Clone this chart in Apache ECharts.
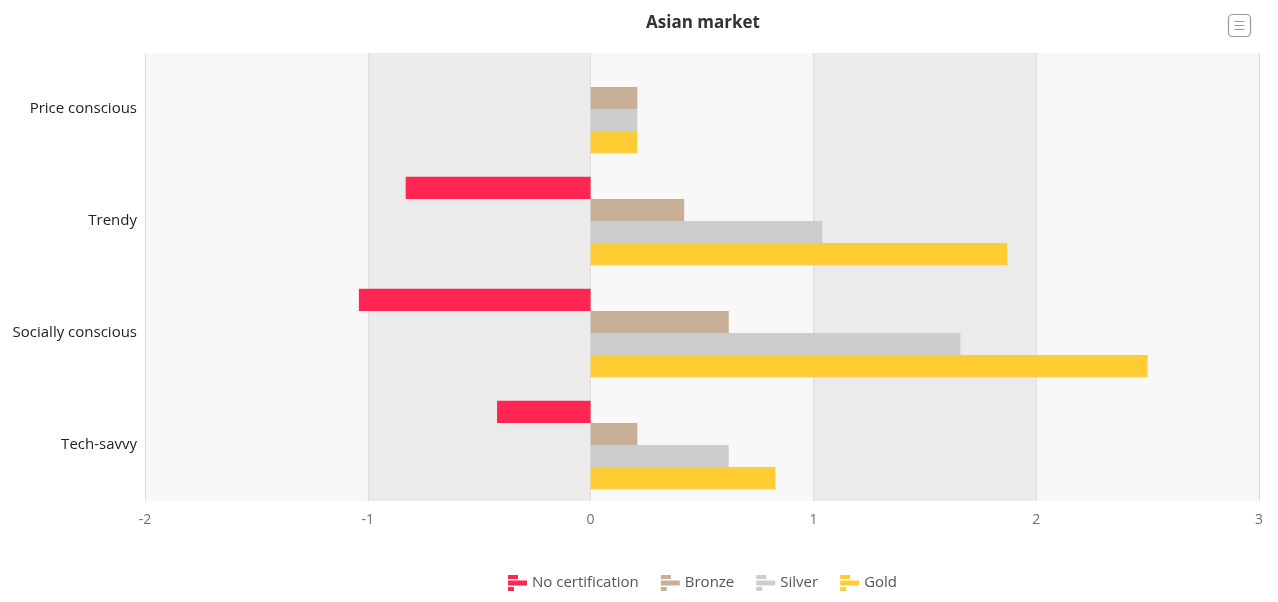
<!DOCTYPE html>
<html><head><meta charset="utf-8">
<script src="https://cdn.jsdelivr.net/npm/echarts@6/dist/echarts.min.js"></script>
<style>html,body{margin:0;padding:0;background:#fff}#c{width:1278px;height:602px}</style>
</head><body><div id="c"></div>
<script>
const categories = ['Price conscious', 'Trendy', 'Socially conscious', 'Tech-savvy'];
const seriesNames = ['No certification', 'Bronze', 'Silver', 'Gold'];
const noCert = [0, -0.83, -1.04, -0.42];
const bronze = [0.21, 0.42, 0.62, 0.21];
const silver = [0.21, 1.04, 1.66, 0.62];
const gold = [0.21, 1.87, 2.5, 0.83];
const colors = ['#ff2752', '#c8b097', '#cdcdcd', '#ffcd33'];
const seriesData = [noCert, bronze, silver, gold];

const font = '"Open Sans", "Noto Sans", sans-serif';
const chart = echarts.init(document.getElementById('c'));
chart.setOption({
  textStyle: { fontFamily: font },
  title: { text: 'Asian market', left: 698, textAlign: 'center', top: 10,
    textStyle: { fontSize: 17, fontWeight: 'bold', color: '#333', fontFamily: font } },
  toolbox: { right: 10, top: -3, itemSize: 22,
    feature: { myMenu: { show: true, title: 'Menu',
      icon: 'path://M4,0H18A4,4 0 0 1 22,4V18A4,4 0 0 1 18,22H4A4,4 0 0 1 0,18V4A4,4 0 0 1 4,0Z M6,7H16 M6,11H16 M6,15H16',
      onclick: function(){} } },
    iconStyle: { borderColor: '#999', color: 'none', borderWidth: 1.2 } },
  legend: { left: 503, bottom: 6, itemWidth: 19, itemHeight: 16, itemGap: 22,
    icon: 'path://M0,0H10V4H0Z M0,5.5H19V10.5H0Z M0,12H6V16H0Z',
    textStyle: { fontSize: 15, color: '#555', fontFamily: font },
    data: seriesNames },
  grid: { left: 145, right: 19, top: 53, bottom: 101 },
  xAxis: { type: 'value', min: -2, max: 3, interval: 1,
    axisLine: { show: false }, axisTick: { show: false },
    axisLabel: { color: '#6e7079', fontSize: 14, margin: 12 },
    splitLine: { show: true, lineStyle: { color: '#dedede' } },
    splitArea: { show: true, areaStyle: { color: ['#f8f8f8', '#ebebeb'] } } },
  yAxis: { type: 'category', data: categories, inverse: true,
    axisLine: { show: false }, axisTick: { show: false },
    axisLabel: { color: '#222', fontSize: 15, margin: 8 },
    splitLine: { show: false } },
  series: seriesNames.map((n, i) => ({
    name: n, type: 'bar', data: seriesData[i],
    itemStyle: { color: colors[i] },
    barGap: '0%', barCategoryGap: '21%'
  }))
});
</script></body></html>
